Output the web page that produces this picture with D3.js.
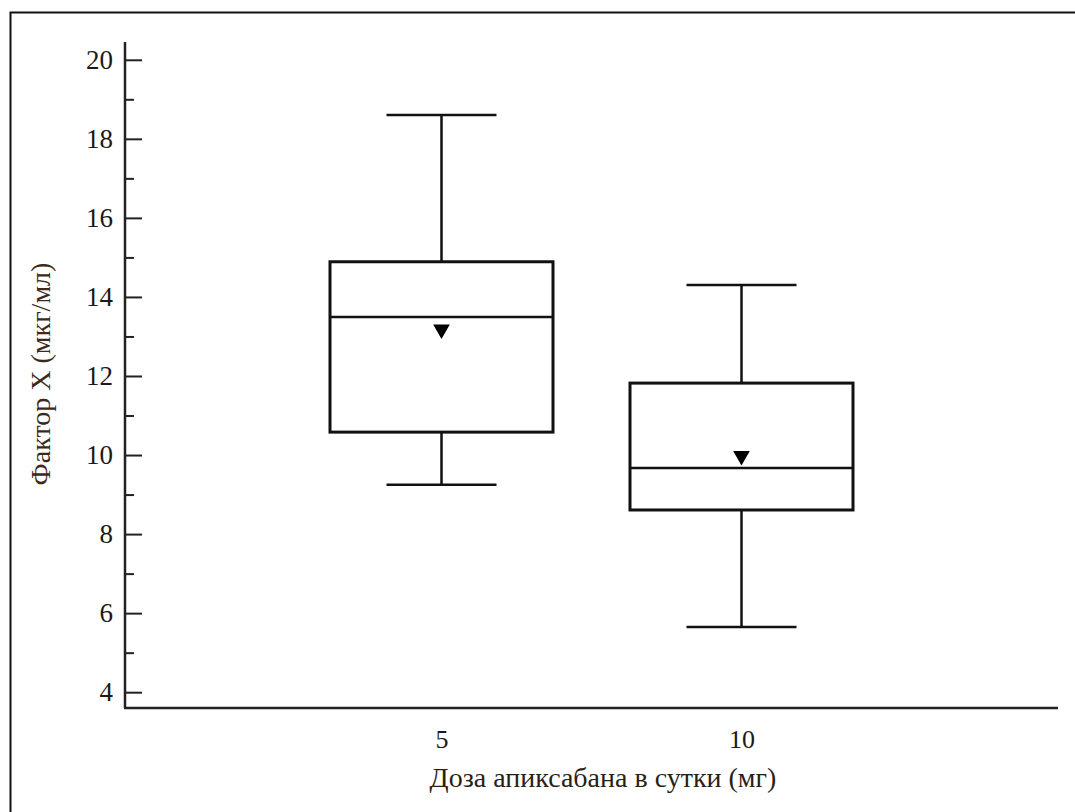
<!DOCTYPE html>
<html>
<head>
<meta charset="utf-8">
<script src="https://cdn.jsdelivr.net/npm/d3@7"></script>
<style>
  html, body { margin: 0; padding: 0; background: #fff; }
  svg { display: block; }
  text { font-family: "Liberation Serif", "Times New Roman", serif; }
</style>
</head>
<body>
<svg id="chart" width="1075" height="812"></svg>
<script>
// Daily apixaban dose groups and factor X box statistics
const doses      = ["5", "10"];
const whiskerLow = [9.25, 5.65];
const q1         = [10.58, 8.61];
const median     = [13.49, 9.67];
const q3         = [14.89, 11.82];
const whiskerHigh= [18.6, 14.3];
const means      = [13.18, 9.98];
const yTicks     = [4, 6, 8, 10, 12, 14, 16, 18, 20];
const yMinorTicks= [5, 7, 9, 11, 13, 15, 17, 19];

const xTitle = "Доза апиксабана в сутки (мг)";
const yTitle = "Фактор X (мкг/мл)";

const serif = "'Liberation Serif', 'Times New Roman', serif";
const svg = d3.select("#chart");

// outer frame (runs off the right and bottom edges)
svg.append("rect")
  .attr("x", 10.5).attr("y", 12.5)
  .attr("width", 1100).attr("height", 900)
  .attr("fill", "none").attr("stroke", "#111").attr("stroke-width", 2);

const plotLeft = 125, plotRight = 1058, plotTop = 42, plotBottom = 708;

const y = d3.scaleLinear().domain([3.6, 20.45]).range([plotBottom, plotTop]);
const x = d3.scalePoint().domain(doses).range([plotLeft, plotRight]).padding(1.055);

const g = svg.append("g");

// y axis: major ticks with labels, minor ticks without
const yAxis = g.append("g")
  .attr("transform", `translate(${plotLeft},0)`)
  .call(d3.axisRight(y).tickValues(yTicks).tickSize(17).tickFormat(d3.format("d")))
  .attr("font-family", serif);
yAxis.select(".domain").remove();
yAxis.selectAll(".tick line").attr("stroke", "#222").attr("stroke-width", 2);
yAxis.selectAll(".tick text")
  .attr("x", -12).attr("text-anchor", "end")
  .attr("font-size", 27).attr("fill", "#1a1a1a").attr("dy", "0.32em");

const yMinor = g.append("g")
  .attr("transform", `translate(${plotLeft},0)`)
  .call(d3.axisRight(y).tickValues(yMinorTicks).tickSize(9).tickFormat(""));
yMinor.select(".domain").remove();
yMinor.selectAll(".tick line").attr("stroke", "#222").attr("stroke-width", 2);

// axis lines
g.append("line")
  .attr("x1", plotLeft).attr("x2", plotLeft).attr("y1", plotTop).attr("y2", plotBottom)
  .attr("stroke", "#222").attr("stroke-width", 2.5);
g.append("line")
  .attr("x1", plotLeft - 1).attr("x2", plotRight).attr("y1", plotBottom).attr("y2", plotBottom)
  .attr("stroke", "#222").attr("stroke-width", 2.5);

// x axis tick labels
const xAxis = g.append("g")
  .attr("transform", `translate(0,${plotBottom})`)
  .call(d3.axisBottom(x).tickSize(0).tickPadding(22))
  .attr("font-family", serif);
xAxis.select(".domain").remove();
xAxis.selectAll(".tick text")
  .attr("font-size", 26).attr("fill", "#1a1a1a");

// boxes
const boxHalf = 111.5, capHalf = 55;
const boxes = doses.map((d, i) => ({
  d, lo: whiskerLow[i], q1: q1[i], med: median[i], q3: q3[i], hi: whiskerHigh[i], mean: means[i]
}));

const bg = g.selectAll(".box").data(boxes).join("g").attr("class", "box");
const stroke = "#111", sw = 2.5;

// whiskers
bg.append("line")
  .attr("x1", b => x(b.d)).attr("x2", b => x(b.d))
  .attr("y1", b => y(b.hi)).attr("y2", b => y(b.q3))
  .attr("stroke", stroke).attr("stroke-width", sw);
bg.append("line")
  .attr("x1", b => x(b.d)).attr("x2", b => x(b.d))
  .attr("y1", b => y(b.q1)).attr("y2", b => y(b.lo))
  .attr("stroke", stroke).attr("stroke-width", sw);
// caps
bg.append("line")
  .attr("x1", b => x(b.d) - capHalf).attr("x2", b => x(b.d) + capHalf)
  .attr("y1", b => y(b.hi)).attr("y2", b => y(b.hi))
  .attr("stroke", stroke).attr("stroke-width", sw);
bg.append("line")
  .attr("x1", b => x(b.d) - capHalf).attr("x2", b => x(b.d) + capHalf)
  .attr("y1", b => y(b.lo)).attr("y2", b => y(b.lo))
  .attr("stroke", stroke).attr("stroke-width", sw);
// box
bg.append("rect")
  .attr("x", b => x(b.d) - boxHalf).attr("width", boxHalf * 2)
  .attr("y", b => y(b.q3)).attr("height", b => y(b.q1) - y(b.q3))
  .attr("fill", "none").attr("stroke", stroke).attr("stroke-width", sw + 0.5);
// median
bg.append("line")
  .attr("x1", b => x(b.d) - boxHalf).attr("x2", b => x(b.d) + boxHalf)
  .attr("y1", b => y(b.med)).attr("y2", b => y(b.med))
  .attr("stroke", stroke).attr("stroke-width", sw);
// mean marker (downward triangle)
bg.append("path")
  .attr("d", d3.symbol(d3.symbolTriangle, 120)())
  .attr("transform", b => `translate(${x(b.d)},${y(b.mean)}) rotate(180)`)
  .attr("fill", "#000");

// axis titles
svg.append("text")
  .attr("x", 603).attr("y", 787)
  .attr("text-anchor", "middle").attr("font-size", 28).attr("fill", "#2a1f14")
  .attr("font-family", serif)
  .text(xTitle);
svg.append("text")
  .attr("transform", `translate(50,${374}) rotate(-90)`)
  .attr("text-anchor", "middle").attr("font-size", 28).attr("fill", "#3b2a1a")
  .attr("font-family", serif)
  .text(yTitle);
</script>
</body>
</html>
